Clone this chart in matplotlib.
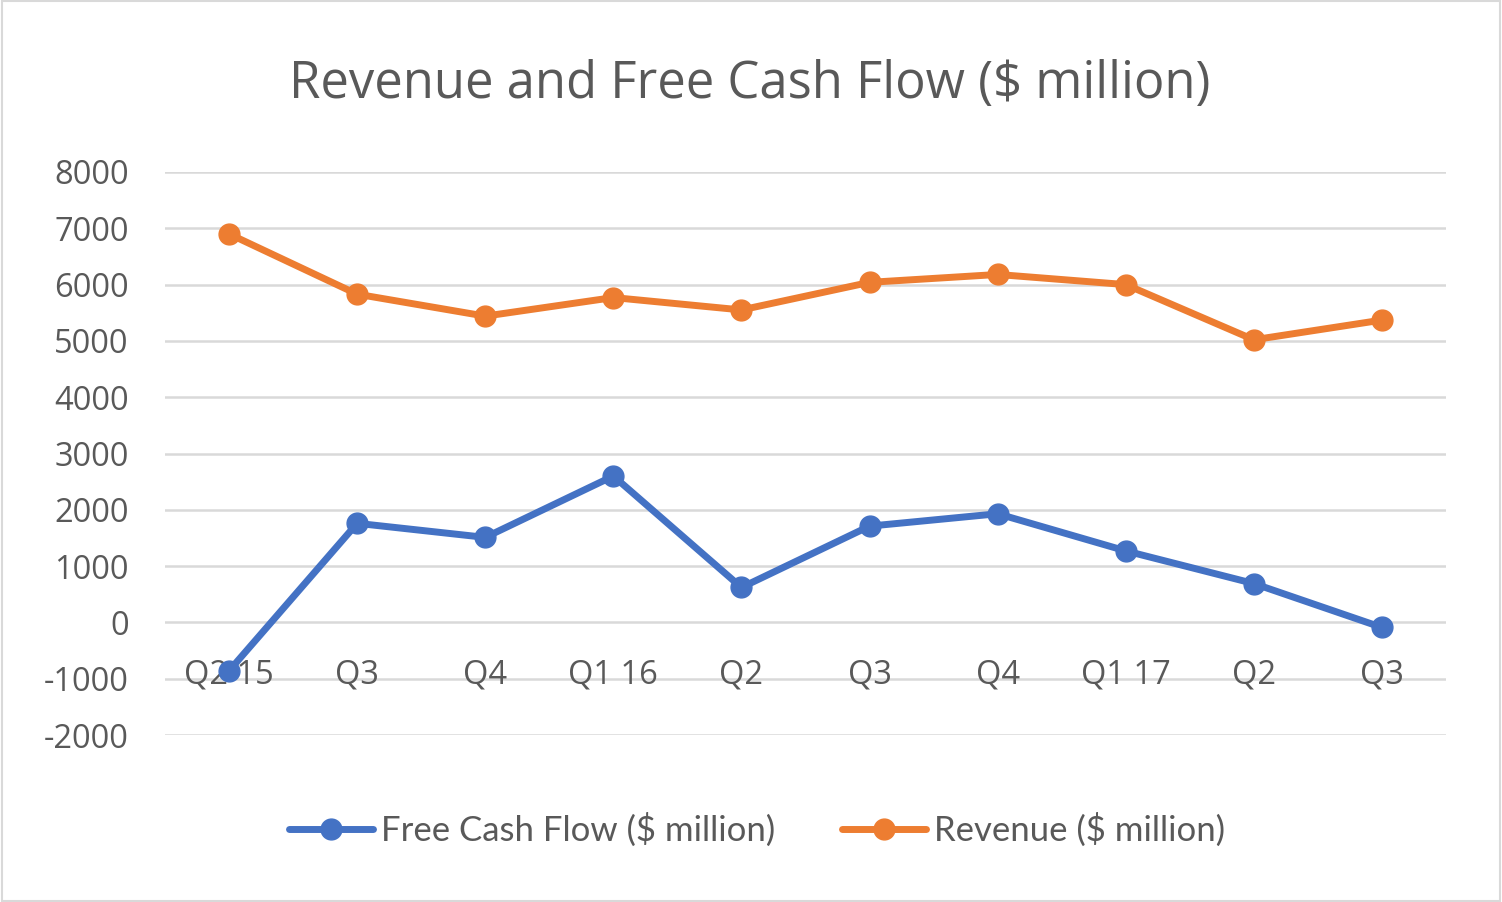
import matplotlib
matplotlib.use("Agg")
import matplotlib.pyplot as plt
from matplotlib.patches import Rectangle

categories = ["Q2 15", "Q3", "Q4", "Q1 16", "Q2", "Q3", "Q4", "Q1 17", "Q2", "Q3"]
free_cash_flow = [-860, 1760, 1510, 2600, 620, 1710, 1930, 1270, 690, -90]
revenue = [6900, 5830, 5440, 5770, 5550, 6040, 6180, 6000, 5020, 5370]
y_ticks = [-2000, -1000, 0, 1000, 2000, 3000, 4000, 5000, 6000, 7000, 8000]

title = "Revenue and Free Cash Flow ($ million)"
label_fcf = "Free Cash Flow ($ million)"
label_rev = "Revenue ($ million)"

blue = "#4472C4"
orange = "#ED7D31"
text_col = "#595959"
grid_col = "#D9D9D9"

fig = plt.figure(figsize=(15.02, 9.02), dpi=100)
fig.patch.set_facecolor("white")
fig.patches.append(Rectangle((0.001, 0.001), 0.998, 0.998, transform=fig.transFigure,
                             fill=False, edgecolor=grid_col, linewidth=1.5))

ax = fig.add_axes([165 / 1502, 1 - 735 / 902, (1446 - 165) / 1502, (735 - 172) / 902])
ax.spines["bottom"].set_position(("data", 0))
x = list(range(len(categories)))
ax.plot(x, free_cash_flow, color=blue, linewidth=5, marker="o", markersize=15,
        label=label_fcf, solid_capstyle="round", zorder=3)
ax.plot(x, revenue, color=orange, linewidth=5, marker="o", markersize=15,
        label=label_rev, solid_capstyle="round", zorder=3)

ax.set_xlim(-0.5, len(categories) - 0.5)
ax.set_ylim(-2000, 8000)
ax.set_yticks(y_ticks)
ax.set_yticklabels([str(v) for v in y_ticks], fontsize=23.5, color=text_col, family="Open Sans")
ax.set_xticks(x)
ax.set_xticklabels(categories, fontsize=23.5, color=text_col, family="Open Sans")
ax.tick_params(axis="y", length=0, pad=26)
ax.tick_params(axis="x", length=0, pad=26)
for s in ["top", "right", "left", "bottom"]:
    ax.spines[s].set_visible(False)
ax.grid(axis="y", color=grid_col, linewidth=1.8)
ax.set_axisbelow(True)
ax.yaxis.set_zorder(0.5)
ax.xaxis.set_zorder(1.0)

fig.text(750 / 1502, 1 - 84 / 902, title, ha="center", va="center", fontsize=36.5,
         color=text_col, family="Open Sans")

leg = fig.legend(loc="center", bbox_to_anchor=(757 / 1502, 1 - 830 / 902), ncol=2,
                 frameon=False, prop={"family": "Lato", "size": 25},
                 handlelength=2.42, handletextpad=0.23, columnspacing=1.93)
for t in leg.get_texts():
    t.set_color(text_col)

fig.savefig("out.png", dpi=100)
